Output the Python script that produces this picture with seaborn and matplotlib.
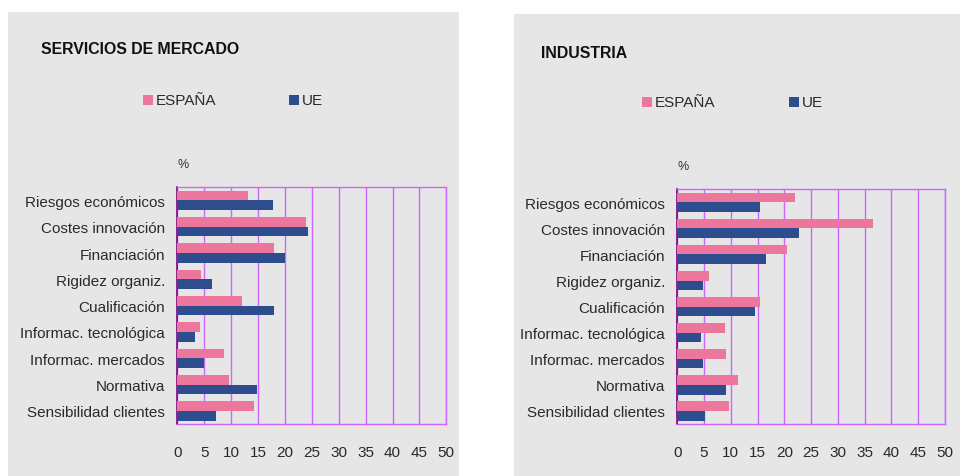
import matplotlib
matplotlib.use("Agg")
import matplotlib.pyplot as plt
from matplotlib.patches import Rectangle
import seaborn as sns
import pandas as pd

categories = ["Riesgos económicos", "Costes innovación", "Financiación", "Rigidez organiz.",
              "Cualificación", "Informac. tecnológica", "Informac. mercados", "Normativa",
              "Sensibilidad clientes"]
series_names = ["ESPAÑA", "UE"]
serv_espana = [13.1, 23.9, 18.0, 4.4, 12.0, 4.2, 8.7, 9.6, 14.3]
serv_ue = [17.8, 24.3, 20.0, 6.4, 18.0, 3.3, 5.0, 14.8, 7.2]
ind_espana = [22.0, 36.5, 20.5, 5.9, 15.4, 8.9, 9.1, 11.3, 9.7]
ind_ue = [15.4, 22.7, 16.6, 4.8, 14.5, 4.4, 4.8, 9.1, 5.2]
x_ticks = [0, 5, 10, 15, 20, 25, 30, 35, 40, 45, 50]
titles = ["SERVICIOS DE MERCADO", "INDUSTRIA"]

PINK = "#ED769D"
BLUE = "#2E4D8F"
GRAY = "#E6E6E6"
GRID = "#CC66FF"
DARKP = "#800080"
TXT = "#2a2a2a"

sns.set_theme(style="white")
plt.rcParams["font.family"] = ["Liberation Sans", "DejaVu Sans"]

W, H = 960, 477
fig = plt.figure(figsize=(W / 100, H / 100), dpi=100)
fig.patch.set_facecolor("white")

def px(x0, y0, x1, y1):
    return [x0 / W, 1 - y1 / H, (x1 - x0) / W, (y1 - y0) / H]

# gray panels
for (x0, y0, x1, y1) in [(8, 13, 459, 477), (514, 15, 960, 477)]:
    fig.patches.append(Rectangle((x0 / W, 1 - y1 / H), (x1 - x0) / W, (y1 - y0) / H,
                                 transform=fig.transFigure, facecolor=GRAY, edgecolor="none",
                                 zorder=-10))

panels = [
    dict(esp=serv_espana, ue=serv_ue, ax=(177.3, 188.3, 446.3, 425), title_xy=(41, 50),
         leg=(143, 289), leg_y=101, pct=(178, 165)),
    dict(esp=ind_espana, ue=ind_ue, ax=(677.3, 190.3, 945, 425), title_xy=(541, 53),
         leg=(642, 789), leg_y=103, pct=(678, 167)),
]

for i, p in enumerate(panels):
    ax = fig.add_axes(px(*p["ax"]))
    ax.set_zorder(1)
    ax.set_facecolor(GRAY)
    df = pd.DataFrame({
        "cat": categories * 2,
        "serie": [series_names[0]] * len(categories) + [series_names[1]] * len(categories),
        "val": list(p["esp"]) + list(p["ue"]),
    })
    sns.barplot(data=df, y="cat", x="val", hue="serie", orient="h", ax=ax,
                palette=[PINK, BLUE], width=0.74, saturation=1, legend=False, zorder=3,
                linewidth=0)
    ax.set_xlim(0, 50)
    ax.set_ylim(len(categories) - 0.5, -0.5)
    ax.set_xticks(x_ticks)
    ax.set_xticklabels([str(t) for t in x_ticks])
    ax.xaxis.grid(True, color=GRID, linewidth=1, zorder=1)
    ax.yaxis.grid(False)
    ax.set_axisbelow(True)
    ax.set_xlabel("")
    ax.set_ylabel("")
    for s in ["top", "right", "bottom"]:
        ax.spines[s].set_color(GRID)
        ax.spines[s].set_linewidth(1)
        ax.spines[s].set_visible(True)
    ax.spines["left"].set_color(DARKP)
    ax.spines["left"].set_linewidth(1.2)
    ax.spines["left"].set_visible(True)
    ax.tick_params(axis="x", length=0, pad=15, labelsize=11, labelcolor=TXT)
    ax.tick_params(axis="y", which="major", length=0, pad=9, labelsize=11, labelcolor=TXT)
    ax.set_yticks([-0.5, 3.5, 7.5], minor=True)
    ax.tick_params(axis="y", which="minor", length=3, color=DARKP, width=1.2, direction="out")

    tx, ty = p["title_xy"]
    fig.text(tx / W, 1 - ty / H, titles[i], fontsize=11.4, fontweight="bold", color="#111111",
             va="center", ha="left")
    for j, lx in enumerate(p["leg"]):
        ly = p["leg_y"]
        fig.patches.append(Rectangle((lx / W, 1 - (ly + 5) / H), 10 / W, 10 / H,
                                     transform=fig.transFigure,
                                     facecolor=[PINK, BLUE][j], edgecolor="none"))
        fig.text((lx + 13) / W, 1 - ly / H, series_names[j], fontsize=11, color=TXT,
                 va="center", ha="left")
    cx, cy = p["pct"]
    fig.text(cx / W, 1 - cy / H, "%", fontsize=9, color="#333333", va="center", ha="left")

fig.savefig("out.png", dpi=100)
